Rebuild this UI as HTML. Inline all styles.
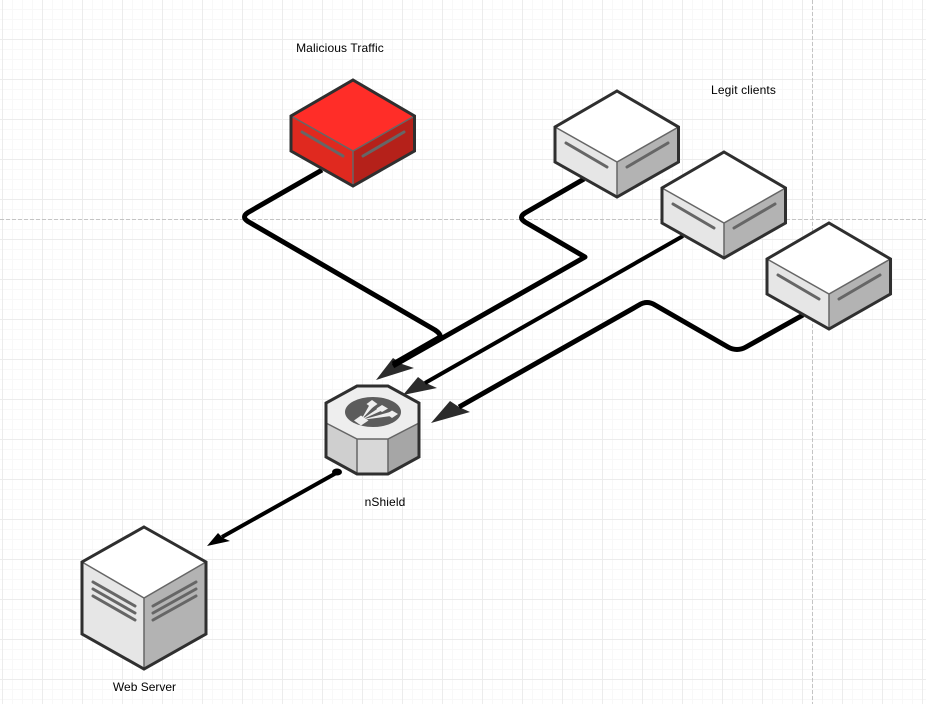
<!DOCTYPE html>
<html><head><meta charset="utf-8"><style>
html,body{margin:0;padding:0;background:#fff;width:926px;height:704px;overflow:hidden}
svg{display:block}
text{font-family:"Liberation Sans",sans-serif;font-size:12px;fill:#000;text-anchor:middle;letter-spacing:.12px}
.o{fill:none;stroke:#2f2f2f;stroke-width:3;stroke-linejoin:miter}
.i{fill:none;stroke:#666;stroke-width:1.5}
.b{fill:none;stroke:#666;stroke-width:3;stroke-linecap:round}
.l{fill:none;stroke:#000;stroke-width:5;stroke-linejoin:round}
.h{fill:#2b2b2b}
.w{fill:#eee}
</style></head><body>
<svg width="926" height="704" viewBox="0 0 926 704" xmlns="http://www.w3.org/2000/svg">
<defs>
<pattern id="mn" patternUnits="userSpaceOnUse" x="2" y="9" width="10" height="10"><path d="M.5 0V10M0 .5H10" stroke="#f8f8f8" stroke-width="1" fill="none"/></pattern>
<pattern id="mj" patternUnits="userSpaceOnUse" x="2" y="39" width="40" height="40"><path d="M.5 0V40M0 .5H40" stroke="#ececec" stroke-width="1" fill="none"/></pattern>
<g id="box">
<path d="M0 71L-62 36V71L0 106Z" fill="var(--l)"/>
<path d="M0 71L61.5 36V71L0 106Z" fill="var(--r)"/>
<path d="M0 0L61.5 36L0 71L-62 36Z" fill="var(--t)"/>
<path class="i" d="M-62 36L0 71L61.5 36M0 71V106"/>
<path class="b" d="M-51 52L-10 76M10 76L51 52"/>
<path class="o" d="M0 0L61.5 36V71L0 106L-62 71V36Z"/>
</g>
</defs>
<rect width="926" height="704" fill="#fff"/>
<rect width="926" height="704" fill="url(#mn)"/>
<rect width="926" height="704" fill="url(#mj)"/>
<path d="M0 219.5H926" stroke="#c4c4c4" stroke-width="1" stroke-dasharray="4 2" fill="none"/>
<path d="M812.5 0V704" stroke="#c4c4c4" stroke-width="1" stroke-dasharray="4 2" fill="none"/>

<polygon class="h" points="376,380 393,358 402,364 414,368"/>
<polygon class="h" points="403,395 418,377 426,383 437,388"/>
<polygon class="h" points="431,423 450,401 459,407 470,412"/>
<polygon fill="#000" points="207,546 218,533 223,538 230,541"/>

<path class="l" d="M322 170L248 212.5Q241 217 248 221.5L435 330Q441 334 440 337"/>
<path class="l" d="M440 337L393 364"/>
<path class="l" d="M584 179L525 213Q518 217.500 525 222L585 257L393 366"/>
<path class="l" style="stroke-width:4" d="M683 236L425 383"/>
<path class="l" d="M803 315L746 347Q737 352 728 347L655 305Q647 300 639 305L459 407"/>
<path class="l" style="stroke-width:4" d="M338 472L222 537"/>
<ellipse cx="337" cy="472" rx="5" ry="3.500" fill="#000"/>

<g style="--t:#ff2d28;--l:#e0291f;--r:#b5211a"><use href="#box" x="353" y="80"/></g>
<g style="--t:#fff;--l:#e6e6e6;--r:#b3b3b3">
<use href="#box" x="617" y="91"/>
<use href="#box" x="724" y="152"/>
<use href="#box" x="829" y="223"/>
</g>

<!-- Web server -->
<path d="M144 598L82 562V634L144 669Z" fill="#e6e6e6"/>
<path d="M144 598L206 562V634L144 669Z" fill="#b3b3b3"/>
<path d="M144 527L206 562L144 598L82 562Z" fill="#fff"/>
<path class="i" d="M82 562L144 598L206 562M144 598V669"/>
<path class="b" d="M93 582L135 606M93 589L135 613M93 596L135 620M153 606L196 582M153 613L196 589M153 620L196 596"/>
<path class="o" d="M144 527L206 562V634L144 669L82 634V562Z"/>

<!-- nShield -->
<path d="M326 423L357 439V474L326 457Z" fill="#cfcfcf"/>
<path d="M357 439H388V474H357Z" fill="#d8d8d8"/>
<path d="M388 439L419 423V457L388 474Z" fill="#a6a6a6"/>
<path d="M357 386H388L419 403V423L388 439H357L326 423V403Z" fill="#eee"/>
<path class="i" d="M326 423L357 439H388L419 423M357 439V474M388 439V474"/>
<path class="o" d="M357 386H388L419 403V457L388 474H357L326 457V403Z"/>
<ellipse cx="373" cy="412" rx="28" ry="15" fill="#5c5c5c"/>
<polygon class="w" points="361,420 370,404 374,406"/>
<polygon class="w" points="361,420 380,407 383,410"/>
<polygon class="w" points="361,420 390,412 391,416"/>
<polygon class="w" points="354,420.500 361,415.500 368.500,420.500 361,425.500"/>
<polygon class="w" points="366.500,404 372,400 377.500,404 372,408"/>
<polygon class="w" points="376.500,408.500 382,405 388,408.500 382,412"/>
<polygon class="w" points="386.500,414 392,410.500 398,414 392,418"/>

<text x="340" y="52">Malicious Traffic</text>
<text x="743.500" y="94">Legit clients</text>
<text x="385" y="506">nShield</text>
<text x="144.500" y="691" style="letter-spacing:0">Web Server</text>
</svg>
</body></html>
